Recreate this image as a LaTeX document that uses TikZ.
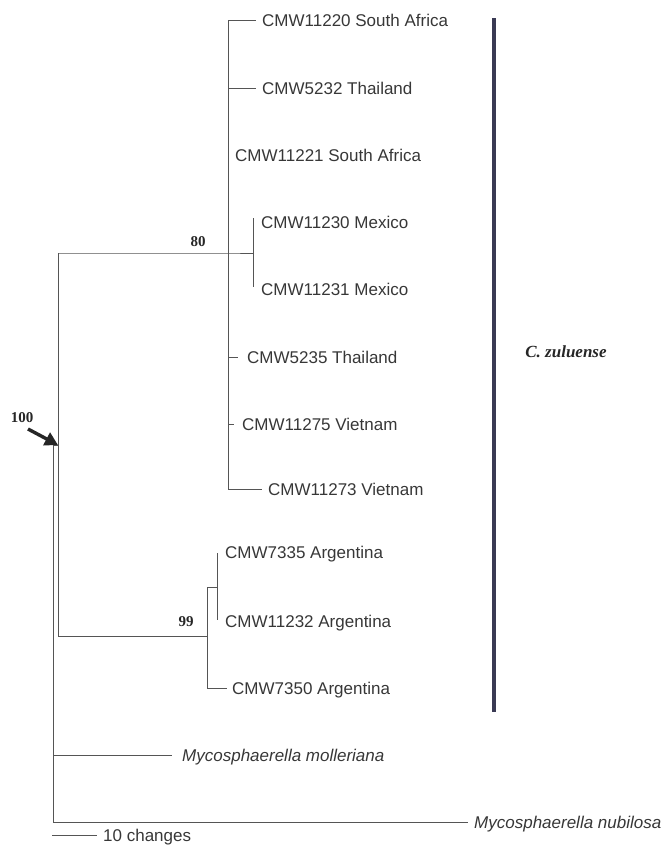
\documentclass[tikz,border=0pt]{standalone}
\usepackage{fontspec}
\setmainfont{Liberation Sans}
\newfontfamily\serifbf{Liberation Serif}
\usetikzlibrary{arrows.meta}
\definecolor{barcol}{RGB}{58,58,84}
\definecolor{txtcol}{RGB}{55,55,55}
\definecolor{lincol}{RGB}{85,85,85}
\begin{document}
\begin{tikzpicture}[x=1pt,y=-1pt,
  tip/.style={anchor=west,inner sep=0pt,text height=12.2pt,text depth=0pt,
    font=\fontsize{17}{17}\selectfont,text=txtcol},
  tipit/.style={tip,font=\fontsize{17}{17}\selectfont\itshape},
  br/.style={draw=lincol,line width=0.9pt},
  supp/.style={font=\serifbf\bfseries\fontsize{15}{15}\selectfont,text=black!85,inner sep=0pt}
]
\useasboundingbox (0,0) rectangle (671,847);

% ---- tip labels
\node[tip] (t1) at (262,20) {CMW11220 South Africa};
\node[tip] (t2) at (262,88) {CMW5232 Thailand};
\node[tip] (t3) at (235,155) {CMW11221 South Africa};
\node[tip] (t4) at (261,222) {CMW11230 Mexico};
\node[tip] (t5) at (261,289) {CMW11231 Mexico};
\node[tip] (t6) at (247,357) {CMW5235 Thailand};
\node[tip] (t7) at (242,424) {CMW11275 Vietnam};
\node[tip] (t8) at (268,489) {CMW11273 Vietnam};
\node[tip] (t9) at (225,552) {CMW7335 Argentina};
\node[tip] (t10) at (225,621) {CMW11232 Argentina};
\node[tip] (t11) at (232,688) {CMW7350 Argentina};
\node[tipit] (t12) at (182,755) {Mycosphaerella molleriana};
\node[tipit] (t13) at (474,822) {Mycosphaerella nubilosa};

% ---- internal nodes
\coordinate (nA) at (228,253);
\coordinate (nMex) at (253,253);
\coordinate (mxT) at (253,218);
\coordinate (mxB) at (253,287);
\coordinate (aT) at (228,20);
\coordinate (aB) at (228,489);
\coordinate (nIn) at (58,445);
\coordinate (inT) at (58,253);
\coordinate (inB) at (58,636);
\coordinate (nRoot) at (53,445);
\coordinate (rootB) at (53,822);
\coordinate (nArg) at (207,636);
\coordinate (argT) at (207,587);
\coordinate (argB) at (207,688);
\coordinate (nArg2) at (217,587);
\coordinate (arg2T) at (217,553);
\coordinate (arg2B) at (217,620);

% ---- C. zuluense big clade
\draw[br] (aT) -- (aB);
\draw[br] (aT) -- ([xshift=-6pt]t1.west);
\draw[br] (nA |- t2.west) -- ([xshift=-6pt]t2.west);
\draw[br] (nA |- t6.west) -- ([xshift=-9pt]t6.west);
\draw[br] (nA |- t7.west) -- ([xshift=-8pt]t7.west);
\draw[br] (aB) -- ([xshift=-6pt]t8.west);
\draw[br] (inT) -- (nA) -- (nMex);
\draw[br] (mxT) -- (mxB);

% ---- Argentina clade
\draw[br] (inB) -- (nArg);
\draw[br] (argT) -- (argB);
\draw[br] (argT) -- (nArg2);
\draw[br] (arg2T) -- (arg2B);
\draw[br] (argB) -- ([xshift=-5pt]t11.west);

% ---- ingroup and root
\draw[br] (inT) -- (inB);
\draw[br] (nRoot) -- (nIn);
\draw[br] (nRoot) -- (rootB);
\draw[br] (nRoot |- t12.west) -- ([xshift=-10pt]t12.west);
\draw[br] (rootB) -- ([xshift=-6pt]t13.west);

% ---- support values
\node[supp] (s80) at (198,242) {80};
\node[supp] (s99) at (186,622) {99};
\node[supp] (s100) at (22,418) {100};
\coordinate (arT) at (28,429);
\draw[-{Triangle[length=13pt,width=14pt]},line width=3.4pt,black!85] (arT) -- (nIn);

% ---- clade bar
\coordinate (barT) at (494,18);
\coordinate (barB) at (494,712);
\draw[barcol,line width=4pt] (barT) -- (barB);
\node[font=\serifbf\bfseries\itshape\fontsize{17}{17}\selectfont,text=black!85,inner sep=0pt] (cz) at (566,352) {C. zuluense};

% ---- scale bar
\node[tip] (sc) at (103,835) {10 changes};
\coordinate (scL) at (52,835);
\draw[br] (scL) -- ([xshift=-6pt]sc.west);
\end{tikzpicture}
\end{document}
